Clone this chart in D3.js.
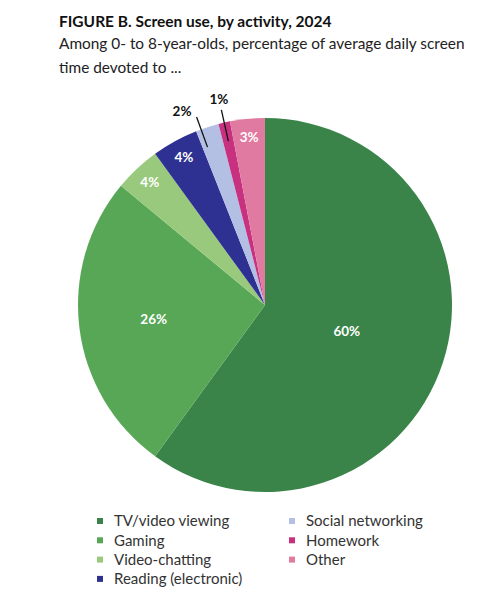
<!DOCTYPE html>
<html>
<head>
<meta charset="utf-8">
<script src="https://cdn.jsdelivr.net/npm/d3@7"></script>
<style>
  body { margin: 0; background: #fff; }
  svg { display: block; font-family: Lato, "Open Sans", sans-serif; }
</style>
</head>
<body>
<svg id="chart"></svg>
<script>
// donnees
const categories = ["TV/video viewing", "Gaming", "Video-chatting", "Reading (electronic)", "Social networking", "Homework", "Other"];
const shares = [60, 26, 4, 4, 2, 1, 3];
const colors = ["#3a8449", "#58a757", "#98c97c", "#2e3191", "#b3c0e4", "#c8317f", "#e17aa0"];
const outsideLabels = ["Social networking", "Homework"];

const width = 502, height = 594;
const cx = 265, cy = 305, radius = 187;

const svg = d3.select("#chart").attr("width", width).attr("height", height);
svg.append("rect").attr("width", width).attr("height", height).attr("fill", "#fff");

// titre
svg.append("text").attr("x", 59).attr("y", 27)
  .attr("font-size", 15.5).attr("font-weight", "bold").attr("fill", "#111")
  .text("FIGURE B. Screen use, by activity, 2024");
const sub = svg.append("text").attr("x", 59).attr("y", 49)
  .attr("font-size", 15.4).attr("fill", "#222");
sub.append("tspan").attr("x", 59).text("Among 0- to 8-year-olds, percentage of average daily screen");
sub.append("tspan").attr("x", 59).attr("dy", 24).text("time devoted to ...");

const data = categories.map((c, i) => ({ name: c, value: shares[i] }));
const color = d3.scaleOrdinal().domain(categories).range(colors);

const pie = d3.pie().value(d => d.value).sort(null);
const arc = d3.arc().innerRadius(0).outerRadius(radius);

const g = svg.append("g").attr("transform", `translate(${cx},${cy})`);
const arcs = pie(data);
const mid = d => (d.startAngle + d.endAngle) / 2;
const pt = (a, r) => [Math.sin(a) * r, -Math.cos(a) * r];

g.selectAll("path")
  .data(arcs)
  .join("path")
  .attr("d", arc)
  .attr("fill", d => color(d.data.name));

// etiquettes dedans
const inside = arcs.filter(d => !outsideLabels.includes(d.data.name));
const insideRadius = d => d.data.value >= 50 ? radius * 0.46 : d.data.value >= 10 ? radius * 0.6 : radius * 0.9;
g.selectAll("text.inside")
  .data(inside)
  .join("text")
  .attr("class", "inside")
  .attr("transform", d => {
    const p = pt(mid(d), insideRadius(d));
    return `translate(${p[0]},${p[1]})`;
  })
  .attr("text-anchor", "middle").attr("dy", "0.35em")
  .attr("font-size", 13.5).attr("font-weight", "bold").attr("fill", "#fff")
  .text(d => d.data.value + "%");

// etiquettes dehors avec traits
const outside = arcs.filter(d => outsideLabels.includes(d.data.name));
// petit decalage d'angle pour ne pas chevaucher
const lineShift = { "Social networking": -0.035, "Homework": 0 };
const textShift = { "Social networking": -0.09, "Homework": 0 };
g.selectAll("line.leader")
  .data(outside)
  .join("line")
  .attr("class", "leader")
  .attr("x1", d => pt(mid(d) + lineShift[d.data.name], radius - 19)[0])
  .attr("y1", d => pt(mid(d) + lineShift[d.data.name], radius - 19)[1])
  .attr("x2", d => pt(mid(d) + lineShift[d.data.name], radius + 13)[0])
  .attr("y2", d => pt(mid(d) + lineShift[d.data.name], radius + 13)[1])
  .attr("stroke", "#111").attr("stroke-width", 1.3);
g.selectAll("text.outside")
  .data(outside)
  .join("text")
  .attr("class", "outside")
  .attr("transform", d => {
    const p = pt(mid(d) + textShift[d.data.name], radius + 24);
    return `translate(${p[0]},${p[1]})`;
  })
  .attr("text-anchor", "middle").attr("dy", "0.35em")
  .attr("font-size", 13.5).attr("font-weight", "bold").attr("fill", "#111")
  .text(d => d.data.value + "%");

// legende
const legend = svg.append("g").attr("class", "legend");
const perCol = 4;
legend.selectAll("g")
  .data(categories)
  .join("g")
  .attr("transform", (d, i) => `translate(${i < perCol ? 97 : 289},${521 + (i % perCol) * 19.3})`)
  .each(function (d) {
    const item = d3.select(this);
    item.append("rect").attr("x", 0).attr("y", -3).attr("width", 6).attr("height", 6).attr("fill", color(d));
    item.append("text").attr("x", 17).attr("dy", "0.35em")
      .attr("font-size", 15).attr("fill", "#333").text(d);
  });
</script>
</body>
</html>
